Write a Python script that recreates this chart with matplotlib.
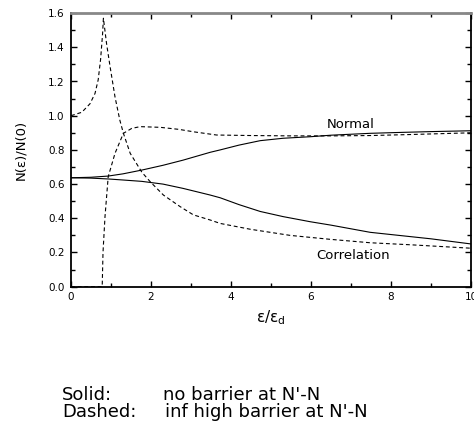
import matplotlib
matplotlib.use("Agg")
import matplotlib.pyplot as plt
from matplotlib.ticker import MultipleLocator

plt.rcParams['font.family'] = ['DejaVu Sans']

# solid curves: no barrier at N'-N
solid_x = [0.0, 0.5, 0.93, 1.3, 1.77, 2.3, 2.8, 3.48, 3.73, 4.2, 4.73, 5.3, 5.98, 6.5, 7.48, 8.2, 9.0, 10.0]
solid_normal = [0.637, 0.64, 0.647, 0.66, 0.682, 0.71, 0.74, 0.786, 0.80, 0.828, 0.854, 0.868, 0.877, 0.886, 0.897, 0.902, 0.907, 0.912]
solid_corr = [0.637, 0.635, 0.63, 0.624, 0.616, 0.60, 0.575, 0.536, 0.52, 0.48, 0.44, 0.41, 0.38, 0.36, 0.318, 0.30, 0.28, 0.25]

# dashed curves: infinitely high barrier at N'-N
dash_corr_x = [0.0, 0.27, 0.475, 0.6, 0.68, 0.74, 0.79, 0.81, 0.89, 0.975, 1.1, 1.22, 1.31, 1.48, 1.77, 1.98, 2.31, 2.73, 3.06, 3.48, 3.73, 4.48, 5.48, 6.48, 7.48, 8.5, 10.0]
dash_corr = [1.0, 1.02, 1.07, 1.13, 1.21, 1.33, 1.48, 1.57, 1.42, 1.29, 1.11, 0.975, 0.897, 0.78, 0.67, 0.614, 0.536, 0.468, 0.42, 0.39, 0.37, 0.336, 0.30, 0.277, 0.257, 0.245, 0.225]

dash_norm_x = [0.0, 0.78, 0.8, 0.85, 0.93, 1.1, 1.31, 1.52, 1.73, 2.23, 2.7, 3.06, 3.64, 4.5, 5.5, 6.5, 7.5, 8.5, 10.0]
dash_norm = [0.0, 0.0, 0.2, 0.41, 0.643, 0.78, 0.897, 0.926, 0.936, 0.932, 0.92, 0.906, 0.887, 0.884, 0.882, 0.882, 0.884, 0.89, 0.90]

fig = plt.figure(figsize=(4.74, 4.23), dpi=100)
ax = fig.add_axes([71 / 474, 136.3 / 423, 400 / 474, 273.6 / 423])

ax.plot(solid_x, solid_normal, color='black', lw=0.8)
ax.plot(solid_x, solid_corr, color='black', lw=0.8)
ax.plot(dash_corr_x, dash_corr, color='black', lw=0.8, dashes=(3.5, 2.5))
ax.plot(dash_norm_x, dash_norm, color='black', lw=0.8, dashes=(3.5, 2.5))

ax.set_xlim(0, 10)
ax.set_ylim(0, 1.6)
ax.xaxis.set_major_locator(MultipleLocator(2))
ax.xaxis.set_minor_locator(MultipleLocator(1))
ax.yaxis.set_major_locator(MultipleLocator(0.2))
ax.yaxis.set_minor_locator(MultipleLocator(0.1))
ax.yaxis.set_major_formatter(plt.FuncFormatter(lambda v, p: f"{v:.1f}"))
ax.tick_params(which='both', direction='in', top=True, right=True, labelsize=7.5, width=1.0)
ax.tick_params(axis='y', pad=4.5)
ax.tick_params(axis='x', pad=4)
ax.tick_params(which='major', length=4.5)
ax.tick_params(which='minor', length=3)
for side in ['left', 'bottom', 'right']:
    ax.spines[side].set_linewidth(1.3)
ax.spines['top'].set_linewidth(2)
ax.spines['top'].set_color('#888888')

ax.text(6.98, 0.95, 'Normal', fontsize=9.5, ha='center', va='center')
ax.text(7.05, 0.18, 'Correlation', fontsize=9.5, ha='center', va='center')

ax.set_ylabel('N(ε)/N(0)', fontsize=9.5)
ax.yaxis.set_label_coords(-0.11, 0.5)
ax.set_xlabel('ε/ε$_\\mathregular{d}$', fontsize=11, va='center')
ax.xaxis.set_label_coords(0.5, -(318 - 286.7) / 273.6)

fig.text(62 / 474, 1 - 395 / 423, 'Solid:', fontsize=13, va='center')
fig.text(163 / 474, 1 - 395 / 423, "no barrier at N'-N", fontsize=13, va='center')
fig.text(62 / 474, 1 - 412 / 423, 'Dashed:', fontsize=13, va='center')
fig.text(165 / 474, 1 - 412 / 423, "inf high barrier at N'-N", fontsize=13, va='center')

fig.savefig('out.png', dpi=100)
